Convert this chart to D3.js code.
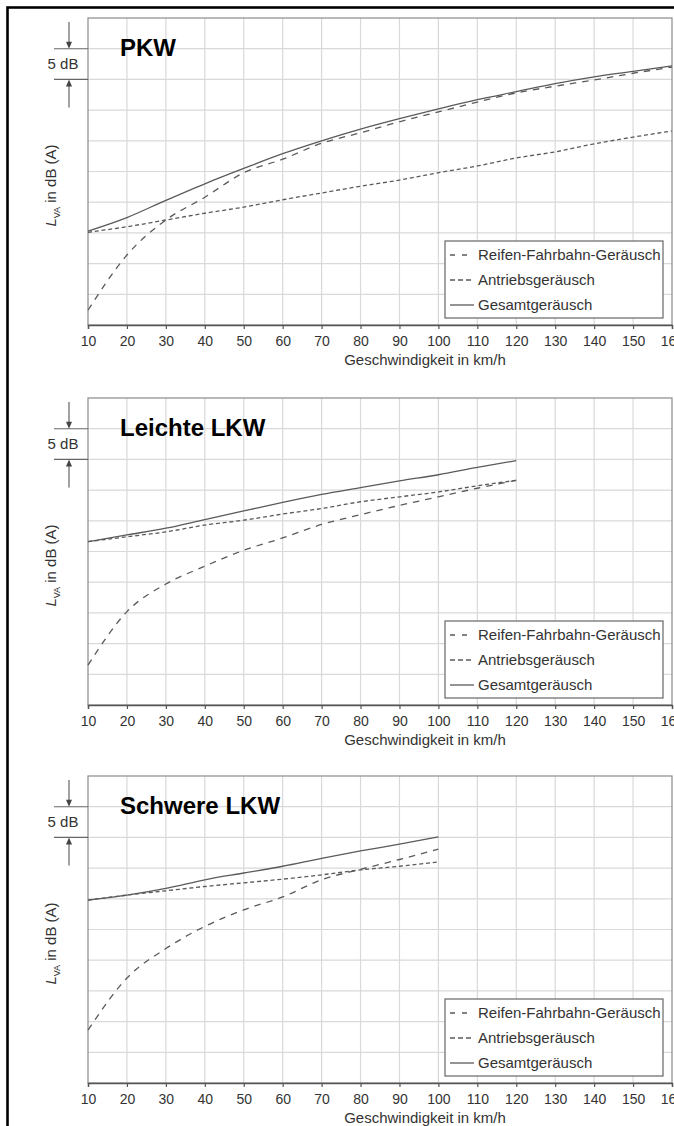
<!DOCTYPE html>
<html>
<head>
<meta charset="utf-8">
<script src="https://cdn.jsdelivr.net/npm/d3@7"></script>
<style>
  body { margin: 0; background: #fff; }
  svg { display: block; font-family: "Liberation Sans", Arial, sans-serif; }
</style>
</head>
<body>
<div id="chart"></div>
<script>
// speeds (km/h) and levels in dB(A)
var speedTicks = [10, 20, 30, 40, 50, 60, 70, 80, 90, 100, 110, 120, 130, 140, 150, 160];
var pkwSpeeds = [10, 20, 30, 40, 50, 60, 70, 80, 90, 100, 110, 120, 130, 140, 150, 160];
var pkwReifen  = [42.4, 51.4, 57.1, 60.8, 64.8, 67.0, 69.6, 71.3, 73.1, 74.7, 76.3, 77.8, 78.9, 79.9, 81.0, 82.0];
var pkwAntrieb = [55.1, 56.0, 57.1, 58.2, 59.2, 60.4, 61.5, 62.6, 63.6, 64.8, 65.9, 67.2, 68.2, 69.5, 70.6, 71.6];
var pkwGesamt  = [55.3, 57.5, 60.3, 63.0, 65.5, 67.9, 70.0, 71.9, 73.6, 75.2, 76.7, 78.0, 79.3, 80.4, 81.3, 82.2];

var leichtSpeeds  = [10, 20, 30, 40, 50, 60, 70, 80, 90, 100, 110, 120];
var leichtReifen  = [46.5, 55.2, 59.7, 62.6, 65.2, 67.2, 69.4, 71.0, 72.5, 73.9, 75.3, 76.6];
var leichtAntrieb = [66.6, 67.4, 68.2, 69.3, 70.1, 71.1, 72.0, 73.1, 73.9, 74.7, 75.7, 76.6];
var leichtGesamt  = [66.6, 67.7, 68.8, 70.2, 71.6, 73.0, 74.3, 75.4, 76.5, 77.5, 78.7, 79.8];

var schwerSpeeds  = [10, 20, 30, 40, 50, 60, 70, 80, 90, 100];
var schwerReifen  = [48.6, 57.1, 61.9, 65.5, 68.2, 70.3, 73.1, 74.8, 76.4, 78.1];
var schwerAntrieb = [69.8, 70.6, 71.3, 72.0, 72.6, 73.2, 73.9, 74.7, 75.3, 76.0];
var schwerGesamt  = [69.8, 70.6, 71.7, 73.1, 74.2, 75.3, 76.6, 77.8, 78.9, 80.1];

var levelTicks = [40, 45, 50, 55, 60, 65, 70, 75, 80, 85, 90];
var legendLabels = ["Reifen-Fahrbahn-Geräusch", "Antriebsgeräusch", "Gesamtgeräusch"];
var panelTitles = ["PKW", "Leichte LKW", "Schwere LKW"];

var w = 674, h = 1126,
    left = 88, right = 672, plotH = 307,
    lineColor = "#5a5a5a",
    dashes = ["6.5,6", "4,2.8", null];

var svg = d3.select("#chart").append("svg").attr("width", w).attr("height", h);
svg.append("rect").attr("width", w).attr("height", h).attr("fill", "#fff");

// outer frame of the scanned page
svg.append("rect")
  .attr("x", 7.5).attr("y", 7.5).attr("width", 800).attr("height", 1300)
  .attr("fill", "none").attr("stroke", "#000").attr("stroke-width", 2.6);

var x = d3.scaleLinear().domain([10, 160]).range([left, right]);

var panels = [
  { top: 18,  title: panelTitles[0], speeds: pkwSpeeds,    series: [pkwReifen, pkwAntrieb, pkwGesamt] },
  { top: 398, title: panelTitles[1], speeds: leichtSpeeds, series: [leichtReifen, leichtAntrieb, leichtGesamt] },
  { top: 776, title: panelTitles[2], speeds: schwerSpeeds, series: [schwerReifen, schwerAntrieb, schwerGesamt] }
];

panels.forEach(function(p) {
  var bottom = p.top + plotH;
  var y = d3.scaleLinear().domain([40, 90]).range([bottom, p.top]);
  var g = svg.append("g");

  // grid
  g.selectAll("line.hg").data(levelTicks.slice(1, -1)).enter().append("line")
    .attr("x1", left).attr("x2", right)
    .attr("y1", function(d) { return y(d); }).attr("y2", function(d) { return y(d); })
    .attr("stroke", "#d9d9d9").attr("stroke-width", 1.2);
  g.selectAll("line.vg").data(speedTicks.slice(1, -1)).enter().append("line")
    .attr("x1", function(d) { return x(d); }).attr("x2", function(d) { return x(d); })
    .attr("y1", p.top).attr("y2", bottom)
    .attr("stroke", "#d9d9d9").attr("stroke-width", 1.2);

  // plot frame
  g.append("rect").attr("x", left).attr("y", p.top).attr("width", right - left).attr("height", plotH)
    .attr("fill", "none").attr("stroke", "#8a8a8a").attr("stroke-width", 1.2);

  // x axis
  var ax = g.append("g").attr("transform", "translate(0," + bottom + ")")
    .call(d3.axisBottom(x).tickValues(speedTicks).tickSize(4).tickPadding(7));
  ax.select(".domain").attr("stroke", "#555").attr("stroke-width", 1.4);
  ax.selectAll(".tick line").attr("stroke", "#555").attr("stroke-width", 1.2);
  ax.selectAll(".tick text").attr("fill", "#333").style("font-size", "14px")
    .style("font-family", "'Liberation Sans', Arial, sans-serif");

  g.append("text").attr("x", 425).attr("y", bottom + 40)
    .attr("text-anchor", "middle").attr("fill", "#333").style("font-size", "15px")
    .text("Geschwindigkeit in km/h");

  // y label L_VA in dB (A)
  var yl = g.append("text")
    .attr("transform", "translate(56," + (p.top + plotH / 2 + 14) + ") rotate(-90)")
    .attr("text-anchor", "middle").attr("fill", "#333").style("font-size", "15px");
  yl.append("tspan").style("font-style", "italic").text("L");
  yl.append("tspan").attr("dy", 4).style("font-size", "9px").text("VA");
  yl.append("tspan").attr("dy", -4).text(" in dB (A)");

  // 5 dB bracket
  [85, 80].forEach(function(v) {
    g.append("line").attr("x1", 54).attr("x2", left).attr("y1", y(v)).attr("y2", y(v))
      .attr("stroke", "#666").attr("stroke-width", 1.1);
  });
  g.append("line").attr("x1", 69).attr("x2", 69).attr("y1", p.top + 4).attr("y2", y(85) - 5)
    .attr("stroke", "#555").attr("stroke-width", 1.1);
  g.append("path").attr("d", "M66," + (y(85) - 7) + "L72," + (y(85) - 7) + "L69," + y(85) + "Z").attr("fill", "#444");
  g.append("line").attr("x1", 69).attr("x2", 69).attr("y1", y(80) + 5).attr("y2", y(80) + 28)
    .attr("stroke", "#555").attr("stroke-width", 1.1);
  g.append("path").attr("d", "M66," + (y(80) + 7) + "L72," + (y(80) + 7) + "L69," + y(80) + "Z").attr("fill", "#444");
  g.append("text").attr("x", 63).attr("y", y(82.5)).attr("dy", "0.35em")
    .attr("text-anchor", "middle").attr("fill", "#333").style("font-size", "15px").text("5 dB");

  // title
  g.append("text").attr("x", 120).attr("y", p.top + 38)
    .style("font-size", "24px").style("font-weight", "bold").attr("fill", "#000").text(p.title);

  // curves
  var line = d3.line()
    .x(function(d) { return x(d[0]); })
    .y(function(d) { return y(d[1]); })
    .curve(d3.curveMonotoneX);
  p.series.forEach(function(vals, i) {
    g.append("path")
      .datum(p.speeds.map(function(s, k) { return [s, vals[k]]; }))
      .attr("d", line)
      .attr("fill", "none").attr("stroke", lineColor).attr("stroke-width", 1.3)
      .attr("stroke-dasharray", dashes[i]);
  });

  // legend
  var lg = g.append("g").attr("transform", "translate(445," + (bottom - 84) + ")");
  lg.append("rect").attr("width", 218).attr("height", 77)
    .attr("fill", "#fff").attr("stroke", "#666").attr("stroke-width", 1.2);
  legendLabels.forEach(function(lab, i) {
    var ly = 14 + i * 25;
    lg.append("line").attr("x1", 5).attr("x2", 29).attr("y1", ly).attr("y2", ly)
      .attr("stroke", lineColor).attr("stroke-width", 1.3)
      .attr("stroke-dasharray", i === 0 ? "5,7" : (i === 1 ? "5,3" : null));
    lg.append("text").attr("x", 33).attr("y", ly).attr("dy", "0.36em")
      .attr("fill", "#333").style("font-size", "15px").text(lab);
  });
});
</script>
</body>
</html>
